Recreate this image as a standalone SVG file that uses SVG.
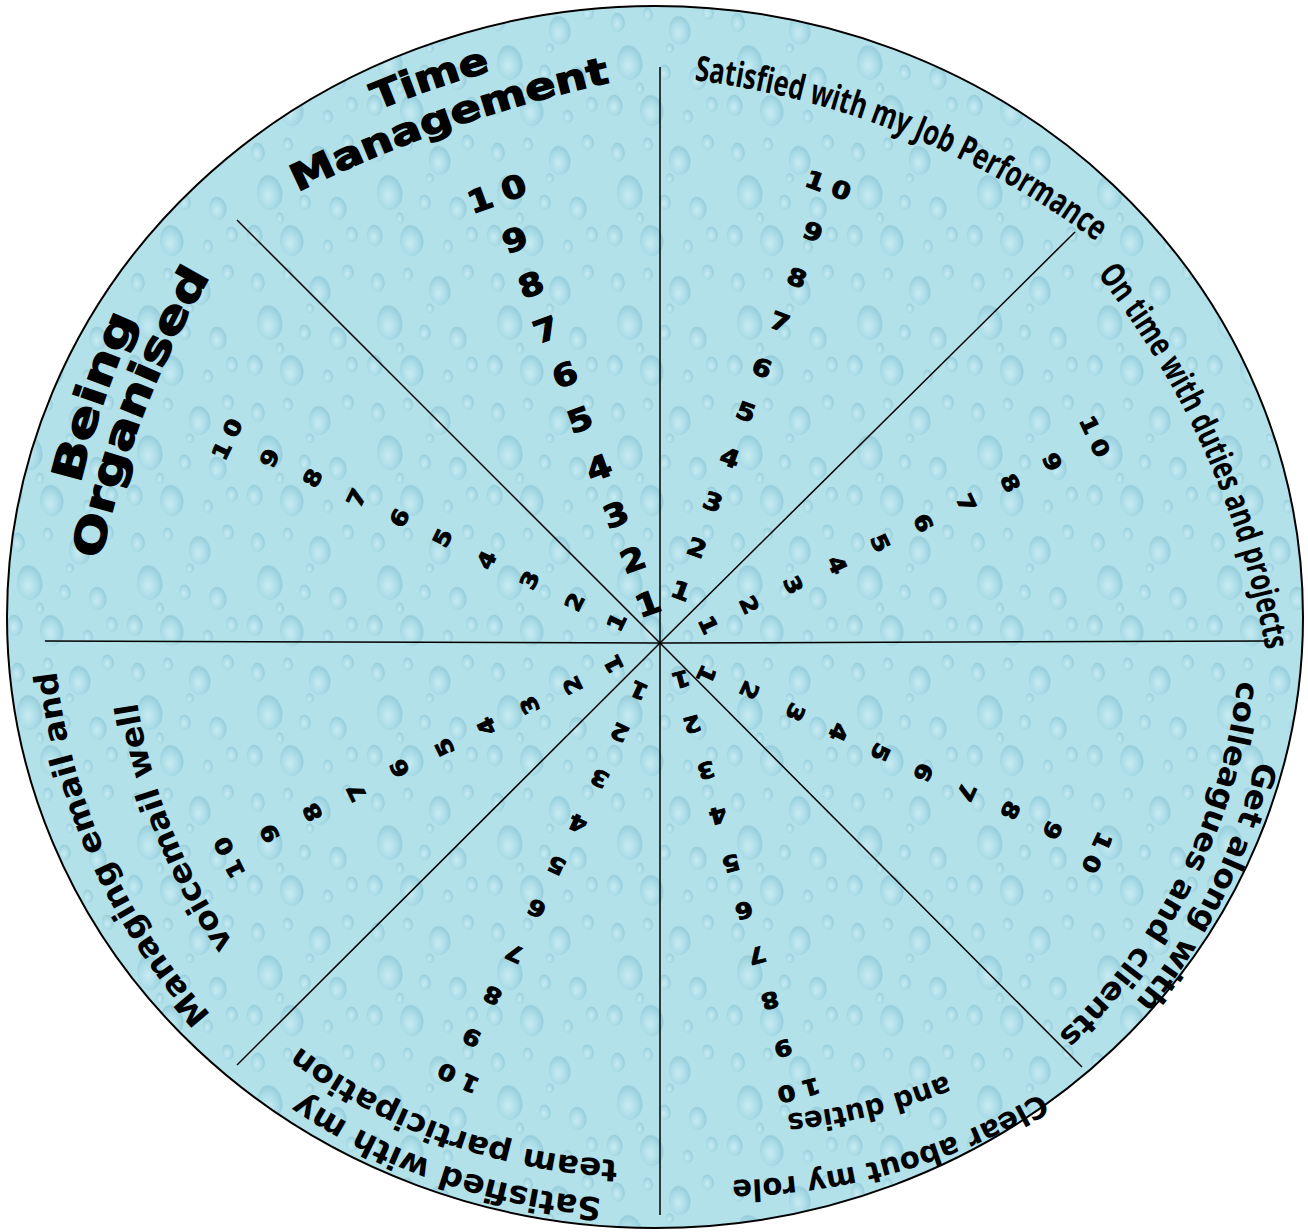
<svg xmlns="http://www.w3.org/2000/svg" width="1308" height="1232" viewBox="0 0 1308 1232">
<style>
.t{font-family:"DejaVu Sans","Liberation Sans",sans-serif;font-weight:bold;fill:#000}
.hv{stroke:#000;stroke-width:1.3}
.c{font-family:"Open Sans","Liberation Sans",sans-serif;font-weight:bold;fill:#000}
.n{font-family:"DejaVu Sans","Liberation Sans",sans-serif;font-weight:bold;font-size:22px;text-anchor:middle;dominant-baseline:central;fill:#000;stroke:#000;stroke-width:0.9}
.nt{font-size:31px;stroke-width:1.2}
.nj{font-size:24px}
.ten{letter-spacing:0.3em}
.sp{stroke:#000;stroke-width:1.5;fill:none}
.d{fill:url(#dg);opacity:0.6}
</style>
<defs>
<radialGradient id="dg" cx="0.42" cy="0.6" r="0.6">
<stop offset="0" stop-color="#d6f2f7"/>
<stop offset="0.6" stop-color="#a3d8e4"/>
<stop offset="0.9" stop-color="#86c2d3"/>
<stop offset="1" stop-color="#9fd3e0" stop-opacity="0"/>
</radialGradient>
<pattern id="drops" width="120" height="130" patternUnits="userSpaceOnUse">
<rect width="120" height="130" fill="#b3e1ea"/>
<ellipse class="d" cx="18" cy="22" rx="7" ry="10"/>
<ellipse class="d" cx="48" cy="14" rx="5" ry="7"/>
<ellipse class="d" cx="80" cy="30" rx="11" ry="15"/>
<ellipse class="d" cx="108" cy="12" rx="6" ry="8"/>
<ellipse class="d" cx="30" cy="62" rx="13" ry="18"/>
<ellipse class="d" cx="65" cy="72" rx="6" ry="8"/>
<ellipse class="d" cx="98" cy="78" rx="9" ry="12"/>
<ellipse class="d" cx="15" cy="105" rx="8" ry="11"/>
<ellipse class="d" cx="52" cy="110" rx="12" ry="16"/>
<ellipse class="d" cx="88" cy="116" rx="5" ry="7"/>
<ellipse class="d" cx="112" cy="104" rx="6" ry="8"/>
<ellipse class="d" cx="70" cy="48" rx="4" ry="5"/>
<ellipse class="d" cx="40" cy="88" rx="4" ry="6"/>
</pattern>
<path id="pTime" d="M376,111 A900,900 0 0 1 492,71"/>
<path id="pMgmt" d="M296,193 A1400,1400 0 0 1 612,82"/>
<path id="pJob" d="M692,80 A850,850 0 0 1 1098,243"/>
<path id="pOnTime" d="M1096,273 A850,850 0 0 1 1266,652"/>
<path id="pGet" d="M1257,757 A605,605 0 0 1 1133,1005"/>
<path id="pColl" d="M1238,678 A575,575 0 0 1 1056,1037"/>
<path id="pClear" d="M1042,1092 A620,620 0 0 1 730,1180"/>
<path id="pDuties" d="M946,1075 A560,560 0 0 1 787,1114"/>
<path id="pSat" d="M605,1198 A620,620 0 0 1 298,1092"/>
<path id="pTeam" d="M620,1160 A580,580 0 0 1 297,1045"/>
<path id="pManag" d="M213,1017 A620,620 0 0 1 56,668"/>
<path id="pVoice" d="M235,945 A580,580 0 0 1 137,700"/>
<path id="pBeing" d="M80,485 A900,900 0 0 1 137,318"/>
<path id="pOrg" d="M100,565 A900,900 0 0 1 213,272"/>
</defs>
<rect width="1308" height="1232" fill="#ffffff"/>
<ellipse id="wheel" cx="655" cy="617" rx="648" ry="611" fill="url(#drops)" stroke="#000" stroke-width="2"/>
<g id="spokes" class="sp">
<line x1="660" y1="643" x2="660" y2="67"/>
<line x1="660" y1="643" x2="660" y2="1215"/>
<line x1="660" y1="643" x2="45" y2="641"/>
<line x1="660" y1="643" x2="1270" y2="641"/>
<line x1="660" y1="643" x2="237" y2="220"/>
<line x1="660" y1="643" x2="1075" y2="232"/>
<line x1="660" y1="643" x2="237" y2="1065"/>
<line x1="660" y1="643" x2="1082" y2="1067"/>
</g>
<g id="time-management">
<text class="t hv" font-size="37"><textPath href="#pTime" startOffset="50%" text-anchor="middle" textLength="120" lengthAdjust="spacingAndGlyphs">Time</textPath></text>
<text class="t hv" font-size="37"><textPath href="#pMgmt" startOffset="50%" text-anchor="middle" textLength="332" lengthAdjust="spacingAndGlyphs">Management</textPath></text>
<text class="n nt" transform="translate(648,604) rotate(-20) scale(1.15,1)">1</text>
<text class="n nt" transform="translate(633,560) rotate(-20) scale(1.15,1)">2</text>
<text class="n nt" transform="translate(616,515) rotate(-20) scale(1.15,1)">3</text>
<text class="n nt" transform="translate(599,468) rotate(-20) scale(1.15,1)">4</text>
<text class="n nt" transform="translate(580,420) rotate(-20) scale(1.15,1)">5</text>
<text class="n nt" transform="translate(565,375) rotate(-20) scale(1.15,1)">6</text>
<text class="n nt" transform="translate(546,330) rotate(-20) scale(1.15,1)">7</text>
<text class="n nt" transform="translate(531,285) rotate(-20) scale(1.15,1)">8</text>
<text class="n nt" transform="translate(515,240) rotate(-20) scale(1.15,1)">9</text>
<text class="n nt ten" transform="translate(502,192) rotate(-20) scale(1.15,1)">10</text>
</g>
<g id="job-performance">
<text class="c" font-size="35"><textPath href="#pJob" startOffset="50%" text-anchor="middle" textLength="438" lengthAdjust="spacingAndGlyphs">Satisfied with my Job Performance</textPath></text>
<text class="n nj" transform="translate(681,591) rotate(20) scale(1.15,1)">1</text>
<text class="n nj" transform="translate(697,548) rotate(20) scale(1.15,1)">2</text>
<text class="n nj" transform="translate(713,502) rotate(20) scale(1.15,1)">3</text>
<text class="n nj" transform="translate(730,458) rotate(20) scale(1.15,1)">4</text>
<text class="n nj" transform="translate(746,412) rotate(20) scale(1.15,1)">5</text>
<text class="n nj" transform="translate(762,368) rotate(20) scale(1.15,1)">6</text>
<text class="n nj" transform="translate(780,322) rotate(20) scale(1.15,1)">7</text>
<text class="n nj" transform="translate(797,278) rotate(20) scale(1.15,1)">8</text>
<text class="n nj" transform="translate(813,232) rotate(20) scale(1.15,1)">9</text>
<text class="n nj ten" transform="translate(832,187) rotate(20) scale(1.15,1)">10</text>
</g>
<g id="on-time">
<text class="c" font-size="34"><textPath href="#pOnTime" startOffset="50%" text-anchor="middle" textLength="416" lengthAdjust="spacingAndGlyphs">On time with duties and projects</textPath></text>
<text class="n" transform="translate(708,625) rotate(65) scale(1.15,1)">1</text>
<text class="n" transform="translate(749,605) rotate(65) scale(1.15,1)">2</text>
<text class="n" transform="translate(793,585) rotate(65) scale(1.15,1)">3</text>
<text class="n" transform="translate(837,565) rotate(65) scale(1.15,1)">4</text>
<text class="n" transform="translate(880,543) rotate(65) scale(1.15,1)">5</text>
<text class="n" transform="translate(923,523) rotate(65) scale(1.15,1)">6</text>
<text class="n" transform="translate(966,503) rotate(65) scale(1.15,1)">7</text>
<text class="n" transform="translate(1010,483) rotate(65) scale(1.15,1)">8</text>
<text class="n" transform="translate(1052,462) rotate(65) scale(1.15,1)">9</text>
<text class="n ten" transform="translate(1096,440) rotate(65) scale(1.15,1)">10</text>
</g>
<g id="get-along">
<text class="t" font-size="31"><textPath href="#pGet" startOffset="50%" text-anchor="middle" textLength="272" lengthAdjust="spacingAndGlyphs">Get along with</textPath></text>
<text class="t" font-size="31"><textPath href="#pColl" startOffset="50%" text-anchor="middle" textLength="406" lengthAdjust="spacingAndGlyphs">colleagues and clients</textPath></text>
<text class="n" transform="translate(706,674) rotate(115) scale(1.15,1)">1</text>
<text class="n" transform="translate(749,690) rotate(115) scale(1.15,1)">2</text>
<text class="n" transform="translate(795,712) rotate(115) scale(1.15,1)">3</text>
<text class="n" transform="translate(838,732) rotate(115) scale(1.15,1)">4</text>
<text class="n" transform="translate(880,752) rotate(115) scale(1.15,1)">5</text>
<text class="n" transform="translate(923,772) rotate(115) scale(1.15,1)">6</text>
<text class="n" transform="translate(966,792) rotate(115) scale(1.15,1)">7</text>
<text class="n" transform="translate(1010,810) rotate(115) scale(1.15,1)">8</text>
<text class="n" transform="translate(1052,830) rotate(115) scale(1.15,1)">9</text>
<text class="n ten" transform="translate(1095,856) rotate(115) scale(1.15,1)">10</text>
</g>
<g id="clear-role">
<text class="t" font-size="30"><textPath href="#pClear" startOffset="50%" text-anchor="middle" textLength="324" lengthAdjust="spacingAndGlyphs">Clear about my role</textPath></text>
<text class="t" font-size="29"><textPath href="#pDuties" startOffset="50%" text-anchor="middle" textLength="165" lengthAdjust="spacingAndGlyphs">and duties</textPath></text>
<text class="n" transform="translate(681,679) rotate(165) scale(1.15,1)">1</text>
<text class="n" transform="translate(692,724) rotate(165) scale(1.15,1)">2</text>
<text class="n" transform="translate(706,770) rotate(165) scale(1.15,1)">3</text>
<text class="n" transform="translate(718,815) rotate(165) scale(1.15,1)">4</text>
<text class="n" transform="translate(731,863) rotate(165) scale(1.15,1)">5</text>
<text class="n" transform="translate(744,910) rotate(165) scale(1.15,1)">6</text>
<text class="n" transform="translate(757,955) rotate(165) scale(1.15,1)">7</text>
<text class="n" transform="translate(770,1000) rotate(165) scale(1.15,1)">8</text>
<text class="n" transform="translate(783,1048) rotate(165) scale(1.15,1)">9</text>
<text class="n ten" transform="translate(795,1091) rotate(165) scale(1.15,1)">10</text>
</g>
<g id="team-participation">
<text class="t" font-size="32"><textPath href="#pSat" startOffset="50%" text-anchor="middle" textLength="322" lengthAdjust="spacingAndGlyphs">Satisfied with my</textPath></text>
<text class="t" font-size="31"><textPath href="#pTeam" startOffset="50%" text-anchor="middle" textLength="343" lengthAdjust="spacingAndGlyphs">team participation</textPath></text>
<text class="n" transform="translate(639,690) rotate(205) scale(1.15,1)">1</text>
<text class="n" transform="translate(620,732) rotate(205) scale(1.15,1)">2</text>
<text class="n" transform="translate(600,778) rotate(205) scale(1.15,1)">3</text>
<text class="n" transform="translate(578,823) rotate(205) scale(1.15,1)">4</text>
<text class="n" transform="translate(557,865) rotate(205) scale(1.15,1)">5</text>
<text class="n" transform="translate(537,908) rotate(205) scale(1.15,1)">6</text>
<text class="n" transform="translate(515,953) rotate(205) scale(1.15,1)">7</text>
<text class="n" transform="translate(493,995) rotate(205) scale(1.15,1)">8</text>
<text class="n" transform="translate(472,1037) rotate(205) scale(1.15,1)">9</text>
<text class="n ten" transform="translate(455,1076) rotate(205) scale(1.15,1)">10</text>
</g>
<g id="email-voicemail">
<text class="t" font-size="32"><textPath href="#pManag" startOffset="50%" text-anchor="middle" textLength="383" lengthAdjust="spacingAndGlyphs">Managing email and</textPath></text>
<text class="t" font-size="32"><textPath href="#pVoice" startOffset="50%" text-anchor="middle" textLength="262" lengthAdjust="spacingAndGlyphs">voicemail well</textPath></text>
<text class="n" transform="translate(614,664) rotate(244) scale(1.15,1)">1</text>
<text class="n" transform="translate(573,685) rotate(244) scale(1.15,1)">2</text>
<text class="n" transform="translate(530,705) rotate(244) scale(1.15,1)">3</text>
<text class="n" transform="translate(487,726) rotate(244) scale(1.15,1)">4</text>
<text class="n" transform="translate(445,747) rotate(244) scale(1.15,1)">5</text>
<text class="n" transform="translate(400,768) rotate(244) scale(1.15,1)">6</text>
<text class="n" transform="translate(357,792) rotate(244) scale(1.15,1)">7</text>
<text class="n" transform="translate(313,812) rotate(244) scale(1.15,1)">8</text>
<text class="n" transform="translate(270,833) rotate(244) scale(1.15,1)">9</text>
<text class="n ten" transform="translate(228,854) rotate(244) scale(1.15,1)">10</text>
</g>
<g id="being-organised">
<text class="t hv" font-size="42"><textPath href="#pBeing" startOffset="50%" text-anchor="middle" textLength="175" lengthAdjust="spacingAndGlyphs">Being</textPath></text>
<text class="t hv" font-size="42"><textPath href="#pOrg" startOffset="50%" text-anchor="middle" textLength="305" lengthAdjust="spacingAndGlyphs">Organised</textPath></text>
<text class="n" transform="translate(617,622) rotate(296) scale(1.15,1)">1</text>
<text class="n" transform="translate(575,602) rotate(296) scale(1.15,1)">2</text>
<text class="n" transform="translate(530,580) rotate(296) scale(1.15,1)">3</text>
<text class="n" transform="translate(487,560) rotate(296) scale(1.15,1)">4</text>
<text class="n" transform="translate(443,538) rotate(296) scale(1.15,1)">5</text>
<text class="n" transform="translate(400,518) rotate(296) scale(1.15,1)">6</text>
<text class="n" transform="translate(357,498) rotate(296) scale(1.15,1)">7</text>
<text class="n" transform="translate(313,478) rotate(296) scale(1.15,1)">8</text>
<text class="n" transform="translate(270,458) rotate(296) scale(1.15,1)">9</text>
<text class="n ten" transform="translate(229,436) rotate(296) scale(1.15,1)">10</text>
</g>
</svg>
